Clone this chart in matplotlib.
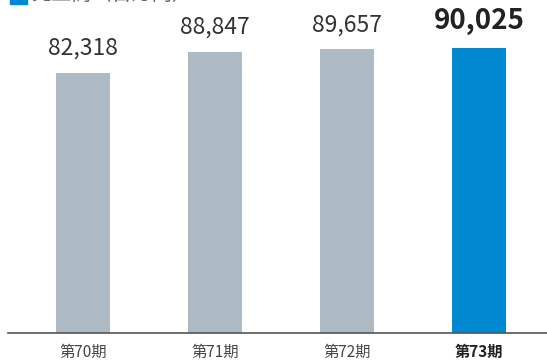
import matplotlib.pyplot as plt
from matplotlib.patches import Rectangle

plt.rcParams['font.family'] = ['Noto Sans CJK JP', 'DejaVu Sans']

# data
periods = ["第70期", "第71期", "第72期", "第73期"]
sales = [82318, 88847, 89657, 90025]
title = "売上高（百万円）"

W, H = 547, 363
fig = plt.figure(figsize=(W / 100, H / 100), dpi=100)
ax = fig.add_axes([8 / W, 30 / H, 1 - 8 / W, 1 - 30 / H])

colors = ["#adbac3"] * 3 + ["#0088d1"]
x = range(len(sales))
ax.bar(x, sales, width=0.41, color=colors, zorder=2)

ax.set_xlim(-0.568, 3.515)
ax.set_ylim(0, 105300)

for i, v in enumerate(sales):
    last = i == len(sales) - 1
    ax.annotate(f"{v:,}", (i, v), xytext=(0, 13), textcoords="offset pixels",
                ha="center", va="bottom",
                fontsize=20 if last else 16.5,
                fontweight="bold" if last else "normal",
                color="#222222" if last else "#333333")

for s in ["top", "right", "left"]:
    ax.spines[s].set_visible(False)
ax.spines["bottom"].set_color("#555555")
ax.spines["bottom"].set_linewidth(1.2)
ax.set_yticks([])
ax.set_xticks(list(x))
ax.set_xticklabels(periods, fontsize=11, color="#444444")
ax.tick_params(axis="x", length=0, pad=8)
ax.get_xticklabels()[-1].set_fontweight("bold")
ax.get_xticklabels()[-1].set_color("#222222")

# title, cut off at the top edge like the original
fig.patches.append(Rectangle((10 / W, 1 - 4 / H), 17 / W, 12 / H,
                             transform=fig.transFigure, color="#0088d1"))
fig.text(31 / W, 1 - 5 / H, title, fontsize=14.5, color="#666666",
         ha="left", va="bottom")

fig.savefig("out.png", dpi=100)
